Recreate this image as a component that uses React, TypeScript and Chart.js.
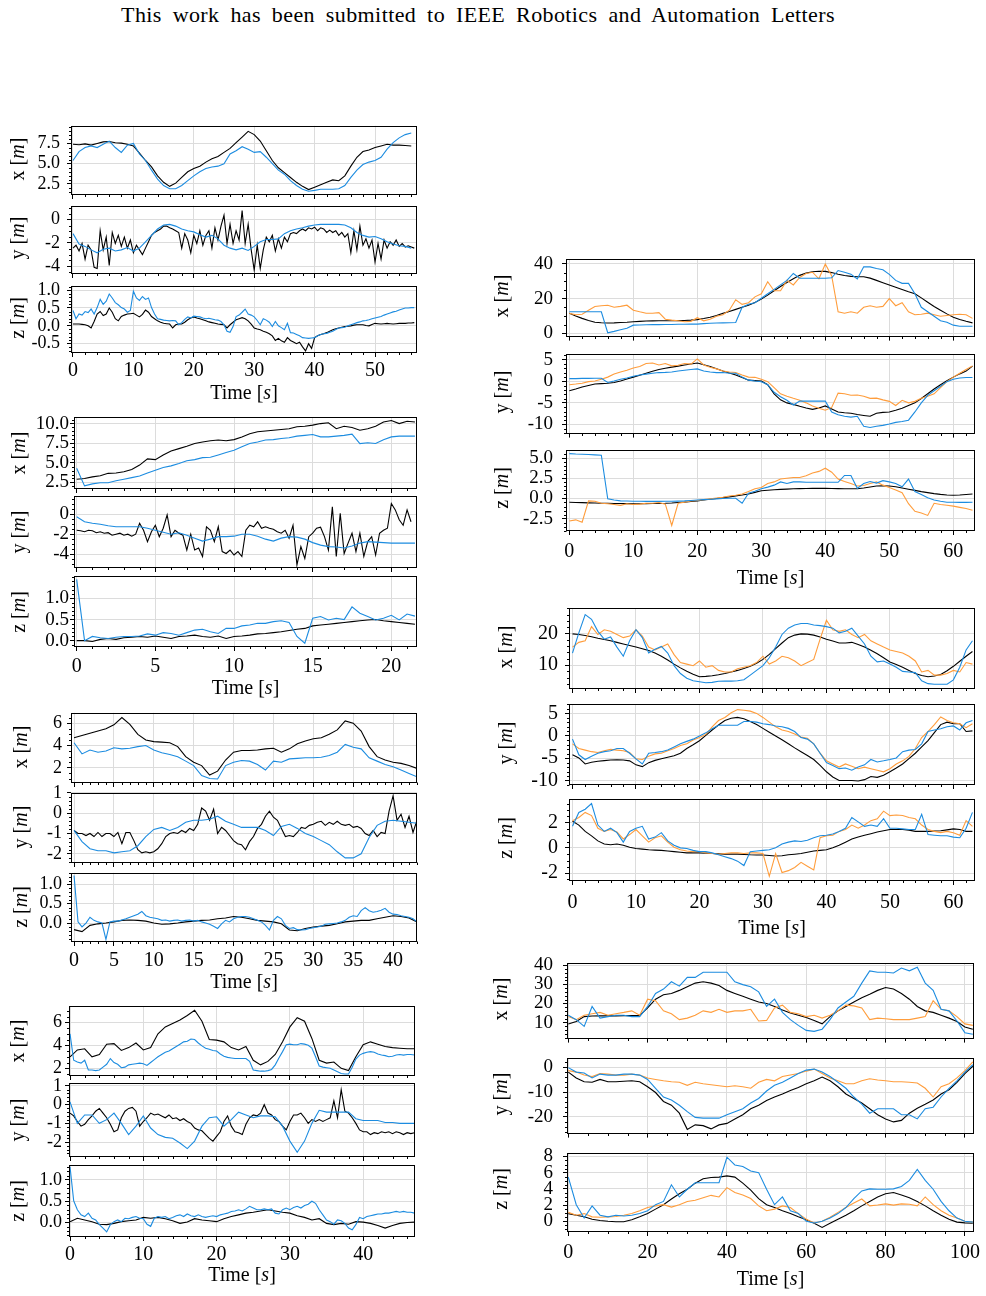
import { useEffect, useRef } from "react";
import Chart from "chart.js/auto";

const SERIF = "'Liberation Serif', 'Times New Roman', Times, serif";
const BLACK = "#000000";
const BLUE = "#1c8ce0";
const ORANGE = "#ff9d3c";
const GRID = "#dcdcdc";

// ---------- Group 1 (0 … 57 s) ----------
const G1_X_TICKS = [0, 10, 20, 30, 40, 50];
const G1_X_BLACK = [7.4,7.35,7.45,7.3,7.5,7.7,7.75,7.6,7.55,7.4, 7.2,6.3,5.4,4.6,3.5,2.7,2.2,2.6,3.3,4.0, 4.4,4.7,5.2,5.6,5.9,6.4,6.9,7.6,8.3,9.0, 8.6,7.8,6.6,5.4,4.5,3.9,3.3,2.7,2.2,1.8, 2.1,2.4,2.7,3.0,2.9,3.5,4.7,5.8,6.5,6.7, 7.0,7.2,7.4,7.3,7.3,7.25,7.2];
const G1_X_BLUE = [5.4,6.5,7.0,7.2,7.0,7.4,7.8,7.0,6.4,7.3, 7.5,6.2,5.4,4.2,3.1,2.3,1.9,1.9,2.3,2.9, 3.5,4.0,4.4,4.6,4.7,5.0,6.2,6.6,7.1,6.8, 6.4,6.5,5.8,5.0,4.2,3.7,2.9,2.3,1.85,1.6, 1.7,1.85,1.85,1.85,1.9,2.3,3.3,4.2,4.9,5.2, 5.4,5.8,6.8,7.6,8.2,8.6,8.8];
const G1_Y_BLACK = [-2.45,-2.2,-2.7,-2.05,-3.4,-2.2,-2.6,-4.1,-4.2,-0.95, -2.6,-1.5,-3.95,-1.1,-2.05,-1.35,-2.3,-1.5,-2.45,-1.75, -2.85,-2.2,-2.6,-3.0,-2.45,-1.9,-1.35,-1.1,-0.95,-0.8, -0.55,-0.55,-0.7,-0.8,-0.95,-1.1,-2.45,-1.2,-1.75,-2.85, -1.35,-2.05,-0.95,-2.2,-1.35,-0.95,-2.45,-0.7,-1.75,-0.55, 0.4,-2.05,-0.4,-2.05,-0.95,-1.75,0.8,-2.05,-0.4,-2.6, -4.35,-2.2,-4.2,-2.6,-1.5,-1.9,-1.35,-2.7,-1.65,-2.45, -1.5,-1.9,-1.2,-1.1,-1.2,-0.95,-0.8,-0.95,-0.7,-0.8, -0.65,-0.95,-0.7,-0.8,-1.1,-0.9,-1.1,-0.95,-1.35,-1.1, -1.5,-1.2,-2.85,-0.95,-2.6,-0.55,-2.2,-1.65,-2.45,-1.75, -3.65,-2.05,-3.4,-1.75,-2.45,-1.9,-2.2,-1.75,-2.3,-2.05, -2.35,-2.25,-2.35,-2.45];
const G1_Y_BLUE = [-1.2,-2.1,-2.3,-2.6,-2.85,-2.55,-2.45,-2.7,-2.6,-2.4, -2.7,-2.45,-1.9,-1.35,-0.8,-0.45,-0.4,-0.55,-0.8,-0.95, -1.05,-1.3,-1.5,-1.35,-1.65,-2.2,-2.45,-2.6,-2.45,-2.65, -2.3,-1.9,-1.7,-1.7,-1.65,-1.2,-0.95,-0.8,-0.7,-0.55, -0.45,-0.4,-0.4,-0.4,-0.4,-0.45,-0.7,-1.1,-1.35,-1.5, -1.45,-1.65,-1.9,-2.1,-2.25,-2.3,-2.45];
const G1_Z_BLACK = [0.05,0.05,0.05,0.04,0.03,0.0,-0.06,0.12,0.33,0.4, 0.29,0.33,0.5,0.38,0.2,0.14,0.26,0.3,0.33,0.34, 0.35,0.3,0.25,0.32,0.44,0.38,0.26,0.2,0.14,0.1, 0.07,0.06,0.05,-0.06,0.03,0.05,0.05,0.1,0.17,0.22, 0.25,0.22,0.2,0.17,0.14,0.11,0.09,0.07,0.05,0.04, 0.03,-0.06,0.03,0.1,0.17,0.2,0.23,0.2,0.14,0.05, -0.06,-0.09,-0.11,-0.15,-0.18,-0.22,-0.28,-0.41,-0.35,-0.42, -0.46,-0.33,-0.41,-0.45,-0.5,-0.46,-0.59,-0.7,-0.5,-0.63, -0.33,-0.28,-0.24,-0.22,-0.19,-0.15,-0.11,-0.08,-0.06,-0.04, -0.02,-0.01,0.0,0.02,0.03,0.03,0.03,0.01,0.0,0.04, 0.07,0.06,0.05,0.06,0.07,0.06,0.05,0.06,0.07,0.07, 0.07,0.08,0.08,0.09];
const G1_Z_BLUE = [0.43,0.2,0.33,0.3,0.4,0.37,0.47,0.33,0.51,0.74, 0.6,0.69,0.89,0.78,0.65,0.59,0.51,0.47,0.38,0.43, 0.97,0.78,0.71,0.82,0.74,0.78,0.51,0.33,0.2,0.18, 0.16,0.15,0.14,0.15,0.14,0.03,0.09,0.18,0.25,0.22, 0.27,0.26,0.25,0.22,0.2,0.21,0.19,0.17,0.16,0.12, 0.03,-0.15,-0.18,-0.02,0.26,0.3,0.38,0.47,0.33,0.3, 0.25,0.15,0.03,0.2,0.16,0.1,-0.02,0.12,0.0,-0.05, -0.11,0.07,-0.19,-0.2,-0.24,-0.28,-0.33,-0.34,-0.35,-0.34, -0.33,-0.28,-0.24,-0.22,-0.21,-0.18,-0.15,-0.1,-0.06,-0.05, -0.04,0.0,0.03,0.06,0.09,0.11,0.14,0.15,0.17,0.2, 0.22,0.24,0.26,0.3,0.33,0.36,0.39,0.41,0.44,0.47, 0.5,0.5,0.51,0.51];

// ---------- Group 2 (0 … 21.5 s) ----------
const G2_X_TICKS = [0, 5, 10, 15, 20];
const G2_X_BLACK = [2.9,3.0,3.2,3.35,3.65,3.7,3.85,4.15,4.7,5.5, 5.4,6.0,6.5,6.8,7.1,7.45,7.65,7.8,7.9,7.8, 7.95,8.3,8.7,8.95,9.05,9.15,9.25,9.35,9.6,9.65, 9.8,10.0,10.1,9.35,9.65,9.5,9.15,9.35,9.65,10.2, 10.4,10.0,10.3,10.2];
const G2_X_BLUE = [4.3,2.05,2.3,2.45,2.45,2.7,2.9,3.1,3.3,3.7, 4.05,4.4,4.6,4.9,5.25,5.4,5.65,5.7,6.0,6.3, 6.6,7.05,7.45,7.65,7.9,7.95,8.1,8.2,8.4,8.5, 8.6,8.3,8.3,8.4,8.5,8.65,7.45,7.55,7.45,7.95, 8.3,8.4,8.4,8.4];
const G2_Y_BLACK = [-1.6,-1.65,-1.75,-1.6,-1.65,-1.85,-1.75,-1.9,-1.85,-2.1, -2.0,-1.9,-2.1,-2.0,-2.2,-2.0,-0.9,-1.6,-2.75,-1.75, -1.1,-2.25,-1.4,-0.05,-2.25,-1.6,-1.9,-2.1,-3.6,-2.0, -3.6,-3.4,-4.25,-1.25,-1.6,-2.75,-1.25,-3.75,-3.95,-3.6, -4.1,-3.75,-4.25,-1.6,-1.1,-1.25,-0.75,-1.4,-1.25,-1.4, -1.5,-1.75,-1.9,-1.6,-2.4,-1.1,-5.1,-3.25,-4.45,-2.25, -1.9,-1.4,-1.3,-2.25,-3.6,0.75,-4.25,0.1,-3.95,-2.9, -1.9,-3.75,-1.9,-4.25,-2.75,-2.25,-4.1,-1.9,-1.6,-1.4, 1.1,0.45,-0.55,-1.1,0.45,-0.75];
const G2_Y_BLUE = [-0.25,-0.75,-0.9,-1.0,-1.15,-1.25,-1.25,-1.25,-1.25,-1.4, -1.6,-1.8,-2.0,-1.85,-2.1,-2.4,-2.7,-2.5,-2.25,-2.25, -2.2,-2.0,-2.0,-2.2,-2.5,-2.7,-2.4,-2.25,-2.3,-2.5, -2.85,-3.1,-3.25,-3.3,-3.4,-3.2,-2.9,-2.75,-2.8,-2.85, -2.9,-2.9,-2.9,-2.9];
const G2_Z_BLACK = [0.0,0.0,-0.02,0.03,0.05,0.03,0.07,0.08,0.1,0.08, 0.11,0.08,0.05,0.1,0.11,0.13,0.1,0.08,0.11,0.05, 0.1,0.11,0.13,0.16,0.17,0.19,0.21,0.24,0.27,0.29, 0.35,0.37,0.39,0.41,0.43,0.45,0.47,0.49,0.5,0.47, 0.45,0.43,0.41,0.39];
const G2_Z_BLUE = [1.45,0.0,0.1,0.07,0.05,0.08,0.1,0.1,0.11,0.16, 0.13,0.19,0.17,0.13,0.19,0.25,0.27,0.21,0.17,0.29, 0.29,0.35,0.37,0.41,0.41,0.45,0.47,0.43,0.1,-0.06, 0.53,0.57,0.49,0.53,0.5,0.8,0.65,0.57,0.49,0.53, 0.6,0.49,0.63,0.58];

// ---------- Group 3 (0 … 43 s) ----------
const G3_X_TICKS = [0, 5, 10, 15, 20, 25, 30, 35, 40];
const G3_X_BLACK = [4.7,4.9,5.1,5.3,5.5,5.85,6.5,5.9,5.0,4.5, 4.35,4.3,4.25,3.9,3.0,2.5,2.2,1.35,1.7,2.7, 3.4,3.55,3.55,3.6,3.7,3.75,3.4,3.7,4.15,4.4, 4.6,4.7,5.0,5.4,6.2,6.0,5.3,3.9,3.0,2.7, 2.5,2.4,2.2,1.95];
const G3_X_BLUE = [4.25,3.25,3.6,3.4,3.5,3.8,3.7,3.75,3.9,4.0, 3.6,3.35,3.2,3.0,2.6,2.2,1.3,1.05,1.0,2.2, 2.5,2.65,2.6,2.3,1.8,2.6,2.5,2.8,2.85,2.9, 2.9,2.95,3.1,3.4,4.1,3.85,3.7,2.9,2.6,2.3, 2.1,1.8,1.5,1.2];
const G3_Y_BLACK = [-0.85,-1.0,-1.0,-1.1,-1.0,-1.15,-0.95,-1.15,-1.0,-1.0, -1.15,-0.95,-1.5,-0.95,-0.95,-1.35,-1.8,-1.95,-1.9,-1.95, -1.9,-1.75,-1.5,-1.15,-1.0,-0.95,-1.0,-0.85,-0.95,-0.75, -0.85,-0.55,0.25,0.1,-0.35,0.2,-1.0,-0.7,-0.85,-1.1, -1.35,-1.5,-1.55,-1.8,-1.4,-1.15,-0.75,-0.55,-0.15,0.1, -0.2,-0.35,-0.75,-1.15,-1.1,-1.15,-0.95,-0.7,-0.75,-0.6, -0.55,-0.45,-0.4,-0.6,-0.45,-0.55,-0.4,-0.55,-0.6,-0.55, -0.7,-0.65,-0.75,-1.0,-1.1,-0.85,-1.15,-0.95,-1.0,0.1, 0.85,-0.35,-0.05,-0.7,-0.15,-0.95,-0.35];
const G3_Y_BLUE = [-0.85,-1.4,-1.75,-1.85,-1.85,-1.95,-1.9,-1.85,-1.6,-1.15, -0.8,-0.7,-0.85,-0.7,-0.45,-0.35,-0.35,-0.3,-0.15,-0.4, -0.55,-0.7,-0.7,-0.7,-0.85,-1.1,-0.65,-0.55,-0.75,-1.0, -1.15,-1.35,-1.55,-1.9,-2.2,-2.2,-2.0,-1.2,-0.6,-0.4, -0.35,-0.4,-0.45,-0.5];
const G3_Z_BLACK = [-0.17,-0.22,-0.06,-0.02,0.0,0.03,0.07,0.08,0.07,0.05, 0.0,-0.03,-0.02,0.0,0.03,0.05,0.07,0.08,0.11,0.13, 0.17,0.15,0.11,0.07,0.05,0.03,-0.02,-0.18,-0.2,-0.14, -0.1,-0.08,-0.06,-0.02,0.03,0.05,0.07,0.07,0.11,0.15, 0.19,0.17,0.13,0.03];
const G3_Z_BLUE = [1.23,0.03,-0.1,0.0,0.15,0.07,0.03,0.0,-0.42,0.03, 0.05,0.05,0.08,0.11,0.15,0.19,0.23,0.3,0.19,0.15, 0.13,0.11,0.07,0.08,0.05,0.07,0.08,0.05,0.07,0.08, 0.05,0.07,0.03,0.0,-0.03,-0.08,-0.14,-0.02,0.07,0.03, 0.11,0.15,0.17,0.17,0.15,0.11,0.07,0.03,-0.06,-0.18, 0.07,0.17,0.11,-0.06,-0.14,-0.12,-0.17,-0.18,-0.17,-0.14, -0.12,-0.1,-0.08,-0.03,-0.02,-0.01,0.0,0.03,0.07,0.15, 0.19,0.17,0.32,0.4,0.32,0.28,0.3,0.33,0.38,0.28, 0.23,0.22,0.19,0.17,0.15,0.11,0.03];

// ---------- Group 4 (0 … 47 s) ----------
const G4_X_TICKS = [0, 10, 20, 30, 40];
const G4_X_BLACK = [3.0,3.6,3.7,3.0,3.2,4.1,4.15,3.55,3.8,4.2, 3.6,3.8,5.0,5.6,5.9,6.2,6.6,7.05,6.1,4.5, 4.45,4.3,3.8,3.6,3.9,2.7,2.3,2.6,3.2,4.3, 5.6,6.4,6.1,4.6,2.7,2.45,2.55,2.0,1.8,3.0, 4.05,4.3,4.1,3.9,3.8,3.75,3.7,3.7];
const G4_X_BLUE = [5.0,2.7,2.55,2.45,2.7,1.85,1.85,1.8,1.85,2.1, 2.35,2.85,2.5,2.35,2.05,2.1,2.3,2.35,2.4,2.45, 2.4,2.25,2.5,2.75,3.0,3.2,3.4,3.5,3.7,3.9, 4.1,4.3,4.35,4.55,4.5,4.2,3.95,3.75,3.65,3.55, 3.5,3.25,3.05,2.95,2.9,2.85,2.85,2.85,2.85,2.6, 1.85,1.8,1.75,1.75,1.8,1.9,2.3,2.9,3.45,4.05, 4.1,4.05,4.05,4.15,4.1,4.0,3.75,3.0,2.2,2.1, 2.05,2.0,1.85,1.7,1.55,1.5,1.5,2.1,2.8,3.15, 3.3,3.4,3.45,3.4,3.25,3.15,3.1,3.0,3.05,3.15, 3.2,3.15,3.2,3.2,3.15];
const G4_Y_BLACK = [-0.45,-0.6,-0.9,-1.15,-1.05,-0.8,-0.6,-0.35,-0.2,-0.45, -0.7,-1.05,-1.45,-1.35,-0.7,-0.35,-0.2,-0.15,-0.35,-1.15, -0.9,-0.7,-0.45,-0.55,-0.5,-0.6,-0.7,-0.55,-0.75,-0.7, -0.85,-0.75,-0.9,-1.0,-1.25,-1.35,-1.4,-1.6,-1.8,-1.95, -1.7,-1.45,-0.9,-0.6,-1.15,-1.45,-1.5,-1.6,-1.05,-0.7, -0.55,-0.6,-0.45,0.0,-0.45,-0.55,-0.8,-0.9,-1.15,-1.35, -0.9,-0.55,-0.55,-0.45,-0.7,-1.0,-0.8,-0.9,-0.8,-0.9, -0.8,-0.7,0.2,-0.7,0.8,-0.35,-0.45,-0.7,-1.0,-1.35, -1.45,-1.45,-1.6,-1.5,-1.55,-1.45,-1.5,-1.45,-1.55,-1.45, -1.5,-1.6,-1.5,-1.55,-1.5];
const G4_Y_BLUE = [0.15,-1.0,-0.55,-0.55,-1.0,-0.8,-0.45,-1.0,-1.6,-1.15, -0.6,-1.25,-1.6,-1.75,-1.8,-2.05,-2.35,-1.95,-1.15,-0.7, -0.65,-1.15,-0.8,-0.4,-0.55,-0.7,-0.6,-0.6,-0.65,-1.15, -1.95,-2.55,-1.95,-1.0,-0.3,-0.4,-0.4,-0.4,-0.4,-0.75, -0.85,-0.85,-0.85,-0.95,-0.95,-1.0,-1.0,-1.0];
const G4_Z_BLACK = [0.02,0.1,0.06,0.02,-0.04,-0.05,-0.02,0.02,0.04,0.06, 0.12,0.1,0.12,0.09,0.04,-0.02,0.01,0.09,0.06,0.04, 0.02,0.09,0.14,0.18,0.22,0.24,0.27,0.3,0.27,0.24, 0.22,0.16,0.12,0.06,0.09,-0.02,-0.05,-0.02,-0.04,0.02, 0.01,-0.02,-0.07,-0.13,-0.07,-0.02,0.0,0.01];
const G4_Z_BLUE = [1.31,0.51,0.3,0.18,0.14,0.22,0.1,0.06,-0.05,-0.13, -0.22,-0.05,0.02,0.06,0.02,0.1,0.09,0.12,0.14,0.1, 0.09,-0.04,-0.09,0.1,0.14,0.12,0.14,0.09,0.12,0.16, 0.18,0.14,0.2,0.16,0.14,0.18,0.14,0.12,0.14,0.16, 0.14,0.18,0.2,0.22,0.26,0.27,0.3,0.27,0.32,0.38, 0.34,0.3,0.3,0.32,0.3,0.32,0.22,0.2,0.3,0.34, 0.3,0.35,0.38,0.34,0.4,0.43,0.5,0.45,0.3,0.18, 0.06,0.02,-0.04,0.06,0.04,-0.02,-0.13,-0.17,-0.05,0.12, 0.09,0.14,0.16,0.18,0.2,0.2,0.22,0.22,0.24,0.26, 0.24,0.26,0.24,0.24,0.22];

// ---------- Group 5 (0 … 63 s) ----------
const G5_X_TICKS = [0, 10, 20, 30, 40, 50, 60];
const G5_X_BLACK = [11.5,10.0,8.6,7.4,6.4,6.1,5.9,6.0,6.2,6.4, 6.7,6.9,7.1,7.15,7.2,7.2,7.2,7.3,7.4,7.6, 7.9,8.5,9.3,10.3,11.5,12.6,13.8,15.0,16.2,17.8, 19.7,22.0,24.5,27.0,29.3,31.5,33.4,34.7,35.5,35.8, 35.7,35.0,34.0,33.3,32.8,32.6,32.6,31.8,30.5,29.2, 27.9,26.6,25.3,24.0,22.8,20.4,17.9,15.5,13.3,11.2, 9.3,8.0,6.9,6.0];
const G5_X_BLUE = [12.4,12.4,12.4,12.4,12.4,12.4,0.3,1.1,2.0,2.9, 4.7,4.8,4.9,5.0,5.0,5.1,5.1,5.2,5.2,5.3, 5.3,5.6,5.8,5.9,6.0,6.1,6.2,15.0,16.7,17.6, 20.2,22.8,25.3,27.9,30.5,34.5,31.7,31.7,31.7,31.7, 31.7,32.0,36.2,35.2,34.0,31.4,38.3,38.3,37.4,36.6, 34.0,30.5,28.8,28.8,22.8,15.0,12.4,9.8,7.2,6.4, 4.7,4.1,4.1,4.1];
const G5_X_ORANGE = [11.5,10.7,11.0,13.3,15.5,15.9,16.2,15.0,15.5,16.2, 13.3,12.4,11.6,11.6,11.9,8.1,7.6,7.2,6.7,6.9, 9.0,7.2,8.1,9.8,10.7,13.3,19.3,16.7,17.6,21.0, 22.8,29.7,24.5,24.5,30.5,27.9,32.2,34.5,35.2,31.4, 40.0,33.1,12.4,11.6,12.4,11.6,15.0,15.9,15.0,15.5, 20.0,15.9,17.6,12.4,10.7,11.0,11.6,10.7,9.8,10.3, 10.7,11.0,10.7,8.6];
const G5_Y_BLACK = [-2.2,-1.8,-1.35,-1.0,-0.65,-0.55,-0.45,-0.3,0.05,0.5, 0.95,1.4,1.85,2.3,2.7,3.0,3.25,3.5,3.75,4.0, 4.2,3.8,3.4,2.9,2.35,1.9,1.45,0.85,0.25,0.15, 0.05,-0.8,-2.9,-4.3,-5.0,-5.35,-5.8,-6.2,-6.5,-6.2, -5.7,-6.4,-7.1,-7.3,-7.4,-7.7,-7.9,-8.1,-7.4,-7.2, -7.1,-6.7,-6.25,-5.6,-5.0,-4.0,-2.9,-1.8,-0.8,0.1, 0.95,1.7,2.35,3.5];
const G5_Y_BLUE = [0.6,0.6,0.65,0.65,0.7,0.7,-0.3,0.05,0.45,0.75, 1.15,1.45,1.65,1.85,2.0,2.05,2.15,2.35,2.55,2.7, 2.85,2.35,2.15,2.0,2.0,1.85,1.85,0.95,0.25,0.05, -0.1,-0.8,-2.55,-3.6,-4.4,-5.5,-4.6,-4.6,-4.6,-4.6, -4.6,-7.1,-7.75,-8.1,-8.3,-8.1,-10.4,-10.7,-10.4,-10.2, -9.9,-9.5,-9.3,-9.0,-7.1,-5.0,-3.25,-2.2,-1.15,-0.1, 0.45,0.75,0.85,0.85];
const G5_Y_ORANGE = [-0.8,-0.65,-0.45,-0.1,0.05,0.45,0.95,1.65,2.15,2.55, 3.05,3.4,4.1,4.2,3.75,4.1,3.55,3.7,4.1,3.95, 5.15,3.75,3.25,2.85,2.35,2.15,2.0,1.45,0.95,0.9, 0.45,-0.1,-1.5,-2.9,-3.45,-3.95,-4.4,-5.0,-5.7,-6.25, -6.7,-6.05,-2.75,-2.9,-3.25,-3.2,-3.45,-3.95,-3.9,-4.3, -4.65,-5.6,-4.4,-5.0,-4.65,-3.95,-3.45,-2.9,-1.5,-0.1, 0.95,1.85,2.7,3.55];
const G5_Z_BLACK = [-0.47,-0.5,-0.52,-0.55,-0.57,-0.6,-0.6,-0.62,-0.63,-0.64, -0.65,-0.65,-0.64,-0.63,-0.62,-0.6,-0.56,-0.5,-0.45,-0.38, -0.3,-0.2,-0.1,0.0,0.1,0.2,0.32,0.42,0.55,0.75, 0.95,1.02,1.08,1.12,1.16,1.2,1.22,1.24,1.25,1.25, 1.25,1.24,1.22,1.2,1.2,1.2,1.3,1.42,1.55,1.57, 1.55,1.45,1.3,1.15,1.0,0.85,0.72,0.6,0.5,0.43, 0.4,0.42,0.48,0.55];
const G5_Z_BLUE = [5.55,5.5,5.48,5.45,5.4,5.35,-0.05,-0.2,-0.3,-0.32, -0.35,-0.35,-0.36,-0.36,-0.36,-0.35,-0.35,-0.33,-0.3,-0.25, -0.2,-0.15,-0.1,-0.05,0.0,0.03,0.02,-0.6,0.65,0.9, 1.2,1.4,1.65,2.05,1.85,2.05,2.05,2.0,2.0,2.0, 2.0,2.0,2.0,2.85,2.85,1.25,1.85,2.1,1.9,2.2, 2.05,1.85,1.45,2.4,0.85,0.5,0.1,-0.2,-0.35,-0.47, -0.47,-0.48,-0.48,-0.47];
const G5_Z_ORANGE = [-2.8,-2.65,-2.95,-0.3,-0.35,-0.6,-0.65,-0.75,-0.85,-0.65, -0.75,-0.7,-0.6,-0.6,-0.5,-0.7,-3.35,-0.6,-0.45,-0.3, -0.25,-0.15,-0.05,0.05,0.15,0.3,0.4,0.55,0.85,1.2, 1.35,1.85,2.05,2.4,2.5,2.6,2.6,2.8,3.15,3.35, 3.75,3.25,2.4,2.1,1.85,1.55,1.6,1.85,2.05,1.65, 1.35,1.05,0.7,-0.65,-1.6,-1.8,-2.1,-0.6,-0.75,-0.85, -0.95,-1.1,-1.25,-1.45];

// ---------- Group 6 (0 … 63 s) ----------
const G6_X_TICKS = [0, 10, 20, 30, 40, 50, 60];
const G6_X_BLACK = [19.9,19.7,19.4,19.0,18.5,18.1,17.7,17.2,16.7,16.2, 15.7,15.2,14.6,13.8,12.8,11.6,10.3,9.1,8.0,7.1, 6.3,6.4,6.6,6.9,7.3,7.8,8.3,8.9,9.6,10.6, 11.8,13.4,15.2,17.0,18.7,19.5,19.9,19.8,19.5,18.9, 18.2,17.6,17.0,17.0,17.2,16.5,15.7,14.7,13.6,12.3, 11.0,10.2,9.3,8.3,7.3,6.7,6.3,6.5,7.0,8.2, 9.6,11.2,12.8,14.3];
const G6_X_BLUE = [13.8,20.2,26.0,24.5,20.7,18.2,18.9,15.7,12.8,17.7, 21.2,18.7,13.8,15.0,15.9,13.8,9.8,7.3,5.8,5.0, 4.7,4.4,4.5,4.85,4.9,4.9,5.0,5.35,6.8,8.3, 9.8,12.3,15.7,19.7,21.7,22.7,23.2,23.2,22.7,22.5, 22.2,21.7,20.2,20.7,21.7,19.2,16.7,12.8,11.0,11.3, 10.3,9.3,8.0,7.8,7.6,5.0,4.1,3.9,3.9,3.9, 5.3,9.3,14.8,17.7];
const G6_X_ORANGE = [15.7,17.2,17.7,22.2,19.7,21.2,20.7,19.7,18.7,19.2, 21.2,19.2,15.7,14.8,15.7,16.7,13.3,10.8,10.3,9.8, 11.3,9.3,9.8,8.3,7.8,7.8,8.8,9.3,9.8,10.8, 12.8,10.3,11.3,12.8,12.3,11.3,9.8,10.8,11.8,18.2, 24.2,21.2,20.7,21.2,19.7,18.7,19.7,17.7,16.7,15.7, 14.8,14.3,13.8,12.8,11.3,7.8,8.3,6.8,6.8,7.3, 8.3,7.8,10.8,10.3];
const G6_Y_BLACK = [-4.25,-4.95,-6.3,-5.9,-5.7,-5.55,-5.4,-5.35,-5.4,-5.6, -6.5,-6.9,-6.0,-5.5,-5.15,-4.8,-4.45,-3.9,-2.85,-2.0, -1.1,0.1,1.3,2.4,3.4,3.9,4.1,3.8,3.2,2.5, 1.65,0.8,-0.05,-0.9,-1.8,-2.7,-3.55,-4.4,-5.3,-6.6, -8.05,-9.2,-10.0,-10.0,-10.0,-10.1,-9.8,-9.1,-9.3,-8.8, -8.05,-7.2,-6.3,-5.1,-3.9,-2.5,-1.1,0.7,2.5,3.05, 2.7,2.7,0.95,1.1];
const G6_Y_BLUE = [-0.75,-4.25,-5.3,-4.6,-3.9,-3.55,-3.35,-2.85,-2.85,-3.9, -5.15,-6.3,-3.9,-3.75,-3.55,-3.2,-2.5,-1.8,-1.25,-0.75, -0.05,0.65,1.55,2.35,2.35,2.35,2.35,3.2,3.2,3.05, 2.7,2.5,2.2,2.0,1.65,0.95,-0.4,-0.75,-1.8,-3.9, -6.0,-6.65,-7.35,-7.2,-7.7,-7.0,-6.5,-5.3,-5.85,-5.6, -5.3,-4.95,-3.55,-3.2,-3.05,-1.8,0.95,1.3,1.55,2.0, 2.2,1.3,2.9,3.4];
const G6_Y_ORANGE = [-1.8,-2.85,-3.2,-3.55,-3.75,-3.35,-3.05,-3.2,-3.35,-3.75, -5.15,-5.3,-4.6,-4.05,-3.9,-3.35,-2.85,-2.15,-1.8,-0.95, -0.4,0.3,2.0,3.4,4.1,5.15,5.85,5.7,5.5,5.0, 4.1,3.05,2.0,1.3,0.95,0.4,-0.3,-0.55,-1.8,-3.9, -5.6,-6.3,-7.0,-6.3,-6.8,-7.35,-7.0,-7.35,-7.7,-8.05, -7.35,-6.3,-5.6,-4.6,-2.85,-0.4,0.95,2.5,4.2,3.4, 2.9,2.7,1.8,2.7];
const G6_Z_BLACK = [2.1,1.8,1.3,0.95,0.55,0.3,0.25,0.3,0.2,0.05, -0.05,-0.1,-0.15,-0.18,-0.2,-0.25,-0.3,-0.35,-0.4,-0.4, -0.4,-0.42,-0.45,-0.48,-0.5,-0.5,-0.5,-0.52,-0.55,-0.56, -0.56,-0.6,-0.65,-0.62,-0.55,-0.5,-0.45,-0.35,-0.25,-0.2, -0.15,0.0,0.2,0.45,0.7,0.85,1.0,1.12,1.25,1.35, 1.45,1.45,1.45,1.4,1.3,1.3,1.3,1.33,1.35,1.42, 1.5,1.45,1.3,1.3];
const G6_Z_BLUE = [1.7,2.8,3.05,3.5,1.8,1.3,1.55,1.2,0.45,1.3, 1.55,1.7,0.7,0.85,1.2,0.55,0.2,0.0,-0.05,-0.2, -0.3,-0.3,-0.4,-0.55,-0.7,-0.85,-1.05,-1.4,-0.3,-0.25, -0.2,-0.15,0.0,0.3,0.45,0.55,0.5,0.6,0.8,0.95, 1.0,1.1,1.3,1.55,2.4,2.05,1.7,1.8,1.7,2.3, 1.55,1.55,1.5,1.45,1.45,2.65,1.05,1.0,0.95,0.95, 0.85,0.8,1.55,2.8];
const G6_Z_ORANGE = [2.15,2.4,2.8,2.55,1.55,1.3,1.45,1.25,0.7,1.05, 1.45,0.95,0.45,0.8,0.95,0.45,0.05,-0.15,-0.25,-0.3, -0.3,-0.4,-0.45,-0.5,-0.45,-0.4,-0.4,-0.45,-0.4,-0.4, -0.45,-2.25,-0.45,-1.95,-1.8,-1.55,-1.15,-1.45,-1.75,0.8, 0.95,1.0,1.3,1.45,1.8,1.55,1.8,2.15,2.3,2.9, 2.55,2.6,2.55,2.4,2.3,1.8,1.45,1.3,1.2,1.3, 1.2,1.0,2.15,1.7];

// ---------- Group 7 (0 … 102 s) ----------
const G7_X_TICKS = [0, 20, 40, 60, 80, 100];
const G7_X_BLACK = [9.25,10.5,13.1,13.4,13.5,13.5,13.5,13.6,13.6,13.7, 17.6,22.2,24.5,25.2,26.8,28.7,30.6,31.3,30.6,29.3, 26.8,25.2,23.7,22.2,20.7,19.9,18.4,16.6,15.0,13.8, 12.6,11.1,9.3,13.1,16.1,18.4,20.7,23.0,24.8,26.8, 28.3,27.5,25.2,22.2,18.4,16.1,15.3,13.8,12.3,10.5, 7.7,6.5];
const G7_X_BLUE = [13.8,11.5,8.0,18.4,12.3,13.1,13.8,13.8,13.1,13.1, 18.4,25.2,27.5,31.3,29.0,33.6,33.6,36.3,36.3,36.3, 36.3,31.3,29.8,28.7,26.0,18.4,22.2,15.3,11.5,8.5, 5.9,5.4,6.5,11.5,17.6,20.7,23.7,30.6,37.0,36.3, 36.3,35.9,38.5,37.0,38.9,30.6,26.8,16.9,16.1,10.8, 4.7,3.9];
const G7_X_ORANGE = [13.1,11.5,13.8,14.6,15.3,13.8,14.6,15.3,16.1,13.8, 22.2,21.4,16.1,14.6,11.5,12.3,13.8,16.1,15.3,16.9, 15.3,16.1,16.1,16.9,10.8,11.1,17.6,19.1,15.3,14.6, 13.1,13.8,12.3,13.8,16.1,19.1,18.7,17.6,11.5,12.3, 12.0,11.5,11.5,11.5,12.3,13.1,21.4,16.9,16.1,13.1, 9.3,8.5];
const G7_Y_BLACK = [-2.0,-4.35,-5.9,-6.1,-4.95,-5.9,-5.9,-5.65,-5.5,-5.9, -7.9,-10.2,-13.8,-15.3,-18.5,-25.0,-23.2,-23.5,-24.8,-23.2, -22.6,-20.8,-19.1,-16.7,-15.3,-13.4,-12.0,-10.8,-9.4,-8.2, -6.7,-5.5,-4.0,-5.5,-7.9,-10.8,-12.6,-14.4,-16.7,-19.1, -20.8,-22.0,-21.4,-18.5,-16.5,-14.9,-13.2,-10.8,-9.1,-6.1, -2.6,0.35];
const G7_Y_BLUE = [-0.2,-2.0,-2.35,-4.35,-2.8,-3.2,-3.2,-2.8,-2.8,-3.2, -4.95,-8.5,-12.0,-13.2,-15.3,-17.9,-20.2,-20.5,-20.5,-20.5, -19.1,-17.9,-16.7,-14.4,-12.6,-9.6,-7.3,-6.1,-4.35,-2.6, -1.2,-0.8,-2.0,-3.8,-6.1,-8.5,-12.0,-14.9,-18.5,-16.7, -16.7,-16.7,-19.1,-19.1,-20.8,-16.7,-16.1,-12.0,-8.5,-5.5, -2.0,0.95];
const G7_Y_ORANGE = [-1.4,-2.0,-3.2,-3.8,-2.6,-2.8,-3.2,-3.2,-2.8,-3.2, -4.35,-4.95,-5.5,-5.9,-6.1,-7.3,-6.1,-6.7,-7.1,-7.5, -7.9,-7.5,-7.9,-8.5,-6.1,-4.95,-5.5,-3.8,-3.2,-2.6, -1.6,-0.8,-2.6,-4.35,-5.5,-6.7,-6.7,-5.5,-4.7,-5.2, -5.5,-5.9,-5.9,-6.1,-6.35,-8.5,-12.0,-7.9,-6.7,-4.35, -1.4,2.1];
const G7_Z_BLACK = [0.95,0.75,0.55,0.25,0.1,0.0,-0.05,-0.05,0.2,0.55, 0.95,1.5,2.05,2.75,3.4,3.95,4.7,5.25,5.4,5.45, 5.6,5.45,4.7,3.85,2.8,2.05,1.7,1.3,0.95,0.55, 0.2,-0.25,-0.75,-0.25,0.25,0.75,1.3,1.9,2.45,3.0, 3.4,3.55,3.25,2.9,2.45,1.9,1.3,0.75,0.25,-0.1, -0.2,-0.25];
const G7_Z_BLUE = [5.45,2.05,0.4,1.9,0.75,0.55,0.75,0.65,0.75,0.95, 1.3,2.05,2.45,4.5,3.0,3.95,4.75,4.75,4.75,4.75, 7.9,6.95,6.75,6.2,6.0,3.95,2.05,3.0,1.3,0.95, 0.0,-0.2,0.0,0.4,0.95,1.7,2.8,3.75,4.0,3.95, 3.95,4.0,4.3,5.05,6.4,5.05,3.95,2.45,1.3,0.4, 0.0,-0.1];
const G7_Z_ORANGE = [1.1,0.75,0.95,0.55,0.5,0.55,0.6,0.75,0.95,1.3, 1.7,1.9,2.05,1.75,2.05,2.45,2.6,2.9,3.2,3.0, 4.15,3.55,3.25,2.8,1.9,1.3,1.5,1.9,1.7,0.95, 0.25,-0.2,0.0,0.5,1.1,1.7,2.25,2.75,1.9,2.0, 2.15,2.0,2.15,2.1,1.9,3.0,2.05,1.3,0.75,0.4, 0.0,-0.1];

// ---------- layout ----------
const AXIS_W = 56;
const PAD_T = 14;
const PAD_R = 20;
const PAD_B = 12;
const X_AXIS_H = 6;
const X_AXIS_H_LAST = 40;

type Series = { values: number[]; dt: number; color: string };
type PanelDef = {
  axis: string; top: number; bottom: number; yMin: number; yMax: number;
  yTicks: number[]; yMinor: number; dec: number; series: Series[];
};
type GroupDef = {
  left: number; right: number; xMin: number; xMax: number; xTicks: number[]; xMinor: number;
  xPad: number; yPad: number; yFont: number; yTitleX: number; timeY: number; panels: PanelDef[];
};

const s = (values: number[], dt: number, color: string): Series => ({ values, dt, color });

const GROUPS: GroupDef[] = [
  {
    left: 71, right: 417, xMin: -0.33, xMax: 56.95, xTicks: G1_X_TICKS, xMinor: 2,
    xPad: 2, yPad: 7, yFont: 18, yTitleX: 16.5, timeY: 392,
    panels: [
      { axis: "x", top: 122, bottom: 195, yMin: 1.13, yMax: 9.69, yTicks: [2.5, 5.0, 7.5], yMinor: 0.5, dec: 1,
        series: [s(G1_X_BLUE, 1, BLUE), s(G1_X_BLACK, 1, BLACK)] },
      { axis: "y", top: 202, bottom: 274, yMin: -4.68, yMax: 1.2, yTicks: [-4, -2, 0], yMinor: 0.5, dec: 0,
        series: [s(G1_Y_BLUE, 1, BLUE), s(G1_Y_BLACK, 0.5, BLACK)] },
      { axis: "z", top: 282, bottom: 353, yMin: -0.76, yMax: 1.12, yTicks: [-0.5, 0.0, 0.5, 1.0], yMinor: 0.1, dec: 1,
        series: [s(G1_Z_BLUE, 0.5, BLUE), s(G1_Z_BLACK, 0.5, BLACK)] },
    ],
  },
  {
    left: 74, right: 417, xMin: -0.17, xMax: 21.63, xTicks: G2_X_TICKS, xMinor: 1,
    xPad: 3.5, yPad: 1, yFont: 19, yTitleX: 17.5, timeY: 687,
    panels: [
      { axis: "x", top: 417, bottom: 489, yMin: 1.65, yMax: 10.84, yTicks: [2.5, 5.0, 7.5, 10.0], yMinor: 0.5, dec: 1,
        series: [s(G2_X_BLUE, 0.5, BLUE), s(G2_X_BLACK, 0.5, BLACK)] },
      { axis: "y", top: 496, bottom: 568, yMin: -5.41, yMax: 1.85, yTicks: [-4, -2, 0], yMinor: 0.5, dec: 0,
        series: [s(G2_Y_BLUE, 0.5, BLUE), s(G2_Y_BLACK, 0.25, BLACK)] },
      { axis: "z", top: 576, bottom: 647, yMin: -0.15, yMax: 1.53, yTicks: [0.0, 0.5, 1.0], yMinor: 0.1, dec: 1,
        series: [s(G2_Z_BLUE, 0.5, BLUE), s(G2_Z_BLACK, 0.5, BLACK)] },
    ],
  },
  {
    left: 71, right: 417, xMin: -0.38, xMax: 43.0, xTicks: G3_X_TICKS, xMinor: 1,
    xPad: 3, yPad: 5, yFont: 18, yTitleX: 20, timeY: 981,
    panels: [
      { axis: "x", top: 711, bottom: 783, yMin: 0.64, yMax: 6.93, yTicks: [2, 4, 6], yMinor: 0.5, dec: 0,
        series: [s(G3_X_BLUE, 1, BLUE), s(G3_X_BLACK, 1, BLACK)] },
      { axis: "y", top: 791, bottom: 863, yMin: -2.45, yMax: 1.0, yTicks: [-2, -1, 0, 1], yMinor: 0.2, dec: 0,
        series: [s(G3_Y_BLUE, 1, BLUE), s(G3_Y_BLACK, 0.5, BLACK)] },
      { axis: "z", top: 871, bottom: 942, yMin: -0.49, yMax: 1.3, yTicks: [0.0, 0.5, 1.0], yMinor: 0.1, dec: 1,
        series: [s(G3_Z_BLUE, 0.5, BLUE), s(G3_Z_BLACK, 1, BLACK)] },
    ],
  },
  {
    left: 69, right: 415, xMin: -0.14, xMax: 47.07, xTicks: G4_X_TICKS, xMinor: 2,
    xPad: 1.5, yPad: 3, yFont: 18, yTitleX: 16.5, timeY: 1274,
    panels: [
      { axis: "x", top: 1006, bottom: 1076, yMin: 1.33, yMax: 7.42, yTicks: [2, 4, 6], yMinor: 0.5, dec: 0,
        series: [s(G4_X_BLUE, 0.5, BLUE), s(G4_X_BLACK, 1, BLACK)] },
      { axis: "y", top: 1083, bottom: 1157, yMin: -2.8, yMax: 1.16, yTicks: [-2, -1, 0, 1], yMinor: 0.2, dec: 0,
        series: [s(G4_Y_BLUE, 1, BLUE), s(G4_Y_BLACK, 0.5, BLACK)] },
      { axis: "z", top: 1165, bottom: 1237, yMin: -0.34, yMax: 1.35, yTicks: [0.0, 0.5, 1.0], yMinor: 0.1, dec: 1,
        series: [s(G4_Z_BLUE, 0.5, BLUE), s(G4_Z_BLACK, 1, BLACK)] },
    ],
  },
  {
    left: 566, right: 975, xMin: -0.52, xMax: 63.39, xTicks: G5_X_TICKS, xMinor: 2,
    xPad: 5, yPad: 9, yFont: 19, yTitleX: 501, timeY: 577,
    panels: [
      { axis: "x", top: 253, bottom: 339, yMin: -1.9, yMax: 42.6, yTicks: [0, 20, 40], yMinor: 5, dec: 0,
        series: [s(G5_X_BLUE, 1, BLUE), s(G5_X_ORANGE, 1, ORANGE), s(G5_X_BLACK, 1, BLACK)] },
      { axis: "y", top: 348, bottom: 436, yMin: -12.1, yMax: 6.2, yTicks: [-10, -5, 0, 5], yMinor: 1, dec: 0,
        series: [s(G5_Y_BLUE, 1, BLUE), s(G5_Y_ORANGE, 1, ORANGE), s(G5_Y_BLACK, 1, BLACK)] },
      { axis: "z", top: 444, bottom: 531, yMin: -4.03, yMax: 5.95, yTicks: [-2.5, 0.0, 2.5, 5.0], yMinor: 0.5, dec: 1,
        series: [s(G5_Z_BLUE, 1, BLUE), s(G5_Z_ORANGE, 1, ORANGE), s(G5_Z_BLACK, 1, BLACK)] },
    ],
  },
  {
    left: 569, right: 975, xMin: -0.55, xMax: 63.4, xTicks: G6_X_TICKS, xMinor: 2,
    xPad: 5.5, yPad: 7, yFont: 20, yTitleX: 505, timeY: 927,
    panels: [
      { axis: "x", top: 603, bottom: 690, yMin: 2.4, yMax: 28.1, yTicks: [10, 20], yMinor: 2, dec: 0,
        series: [s(G6_X_BLUE, 1, BLUE), s(G6_X_ORANGE, 1, ORANGE), s(G6_X_BLACK, 1, BLACK)] },
      { axis: "y", top: 699, bottom: 786, yMin: -11.0, yMax: 7.1, yTicks: [-10, -5, 0, 5], yMinor: 1, dec: 0,
        series: [s(G6_Y_BLUE, 1, BLUE), s(G6_Y_ORANGE, 1, ORANGE), s(G6_Y_BLACK, 1, BLACK)] },
      { axis: "z", top: 794, bottom: 881, yMin: -2.62, yMax: 3.86, yTicks: [-2, 0, 2], yMinor: 0.5, dec: 0,
        series: [s(G6_Z_BLUE, 1, BLUE), s(G6_Z_ORANGE, 1, ORANGE), s(G6_Z_BLACK, 1, BLACK)] },
    ],
  },
  {
    left: 567, right: 974, xMin: -0.33, xMax: 102.3, xTicks: G7_X_TICKS, xMinor: 5,
    xPad: 4.5, yPad: 10, yFont: 19, yTitleX: 500, timeY: 1278,
    panels: [
      { axis: "x", top: 956, bottom: 1042, yMin: 1.6, yMax: 40.9, yTicks: [10, 20, 30, 40], yMinor: 2, dec: 0,
        series: [s(G7_X_BLUE, 2, BLUE), s(G7_X_ORANGE, 2, ORANGE), s(G7_X_BLACK, 2, BLACK)] },
      { axis: "y", top: 1051, bottom: 1137, yMin: -26.7, yMax: 3.5, yTicks: [-20, -10, 0], yMinor: 2, dec: 0,
        series: [s(G7_Y_BLUE, 2, BLUE), s(G7_Y_ORANGE, 2, ORANGE), s(G7_Y_BLACK, 2, BLACK)] },
      { axis: "z", top: 1146, bottom: 1232, yMin: -1.32, yMax: 8.37, yTicks: [0, 2, 4, 6, 8], yMinor: 0.5, dec: 0,
        series: [s(G7_Z_BLUE, 2, BLUE), s(G7_Z_ORANGE, 2, ORANGE), s(G7_Z_BLACK, 2, BLACK)] },
    ],
  },
];

// Frame around the plot area plus the short minor tick marks on the left and bottom edges.
function framePlugin(xTicks: number[], xMinor: number, yTicks: number[], yMinor: number) {
  return {
    id: "frame",
    afterDraw(chart: any) {
      const { ctx, chartArea: a } = chart;
      const xs = chart.scales.x;
      const ys = chart.scales.y;
      const l = Math.round(a.left) + 0.5;
      const t = Math.round(a.top) + 0.5;
      const r = Math.round(a.right) - 0.5;
      const b = Math.round(a.bottom) - 0.5;
      ctx.save();
      ctx.strokeStyle = "#000";
      ctx.lineWidth = 1;
      ctx.strokeRect(l, t, r - l, b - t);
      ctx.beginPath();
      for (let k = Math.ceil(ys.min / yMinor); k * yMinor <= ys.max + 1e-9; k++) {
        const v = k * yMinor;
        if (yTicks.some((m) => Math.abs(m - v) < yMinor * 0.1)) continue;
        const py = Math.round(ys.getPixelForValue(v)) + 0.5;
        ctx.moveTo(l - 2.5, py);
        ctx.lineTo(l, py);
      }
      for (let k = Math.ceil(xs.min / xMinor); k * xMinor <= xs.max + 1e-9; k++) {
        const v = k * xMinor;
        if (xTicks.some((m) => Math.abs(m - v) < xMinor * 0.1)) continue;
        const px = Math.round(xs.getPixelForValue(v)) + 0.5;
        ctx.moveTo(px, b);
        ctx.lineTo(px, b + 2.5);
      }
      ctx.stroke();
      ctx.restore();
    },
  };
}

function Panel({ g, p, last }: { g: GroupDef; p: PanelDef; last: boolean }) {
  const ref = useRef<HTMLCanvasElement | null>(null);
  const xAxisH = last ? X_AXIS_H_LAST : X_AXIS_H;
  const w = AXIS_W + (g.right - g.left) + PAD_R;
  const h = PAD_T + (p.bottom - p.top) + xAxisH + PAD_B;

  useEffect(() => {
    const canvas = ref.current;
    if (!canvas) return;
    const chart = new Chart(canvas, {
      type: "line",
      data: {
        datasets: p.series.map((sr) => ({
          data: sr.values.map((v, i) => ({ x: i * sr.dt, y: v })),
          borderColor: sr.color,
          borderWidth: 1.1,
          pointRadius: 0,
          tension: 0,
          fill: false,
          clip: 0,
        })),
      },
      options: {
        animation: false,
        responsive: false,
        devicePixelRatio: 1,
        events: [],
        layout: { padding: { left: 0, top: PAD_T, right: PAD_R, bottom: PAD_B } },
        plugins: { legend: { display: false }, tooltip: { enabled: false }, title: { display: false } },
        scales: {
          x: {
            type: "linear",
            min: g.xMin,
            max: g.xMax,
            afterBuildTicks: (sc: any) => { sc.ticks = g.xTicks.map((v) => ({ value: v })); },
            afterFit: (sc: any) => { sc.height = xAxisH; },
            grid: { color: GRID, lineWidth: 1, drawTicks: true, tickLength: 4, tickColor: "#000" },
            border: { display: false },
            ticks: {
              display: last,
              autoSkip: false,
              maxRotation: 0,
              padding: g.xPad,
              color: "#000",
              font: { family: SERIF, size: 20 },
              callback: (v: any) => String(v),
            },
          },
          y: {
            type: "linear",
            min: p.yMin,
            max: p.yMax,
            afterBuildTicks: (sc: any) => { sc.ticks = p.yTicks.map((v) => ({ value: v })); },
            afterFit: (sc: any) => { sc.width = AXIS_W; },
            grid: { color: GRID, lineWidth: 1, drawTicks: true, tickLength: 4, tickColor: "#000" },
            border: { display: false },
            ticks: {
              autoSkip: false,
              padding: g.yPad,
              color: "#000",
              font: { family: SERIF, size: g.yFont },
              callback: (v: any) => Number(v).toFixed(p.dec),
            },
          },
        },
      },
      plugins: [framePlugin(g.xTicks, g.xMinor, p.yTicks, p.yMinor)],
    } as any);
    return () => chart.destroy();
  }, []);

  return (
    <canvas
      ref={ref}
      width={w}
      height={h}
      style={{ position: "absolute", left: g.left - AXIS_W, top: p.top - PAD_T, width: w, height: h }}
    />
  );
}

function Group({ g }: { g: GroupDef }) {
  return (
    <>
      {g.panels.map((p, i) => (
        <Panel key={"c" + i} g={g} p={p} last={i === g.panels.length - 1} />
      ))}
      {g.panels.map((p, i) => (
        <div
          key={"t" + i}
          style={{
            position: "absolute",
            left: g.yTitleX,
            top: (p.top + p.bottom) / 2,
            transform: "translate(-50%, -50%) rotate(-90deg)",
            whiteSpace: "nowrap",
            fontFamily: SERIF,
            fontSize: 20,
            lineHeight: "20px",
            color: "#000",
          }}
        >
          {p.axis} [<i>m</i>]
        </div>
      ))}
      <div
        style={{
          position: "absolute",
          left: (g.left + g.right) / 2,
          top: g.timeY,
          transform: "translate(-50%, -50%)",
          whiteSpace: "nowrap",
          fontFamily: SERIF,
          fontSize: 20,
          lineHeight: "20px",
          color: "#000",
        }}
      >
        Time [<i>s</i>]
      </div>
    </>
  );
}

export default function App() {
  return (
    <div style={{ position: "absolute", left: 0, top: 0, width: 986, height: 1296, background: "#fff" }}>
      <div
        style={{
          position: "absolute",
          left: 0,
          top: 3,
          width: 956,
          textAlign: "center",
          fontFamily: SERIF,
          fontSize: 22,
          lineHeight: "24px",
          letterSpacing: "0.4px",
          wordSpacing: "5px",
          color: "#000",
          whiteSpace: "nowrap",
        }}
      >
        This work has been submitted to IEEE Robotics and Automation Letters
      </div>
      {GROUPS.map((g, i) => (
        <Group key={i} g={g} />
      ))}
    </div>
  );
}
